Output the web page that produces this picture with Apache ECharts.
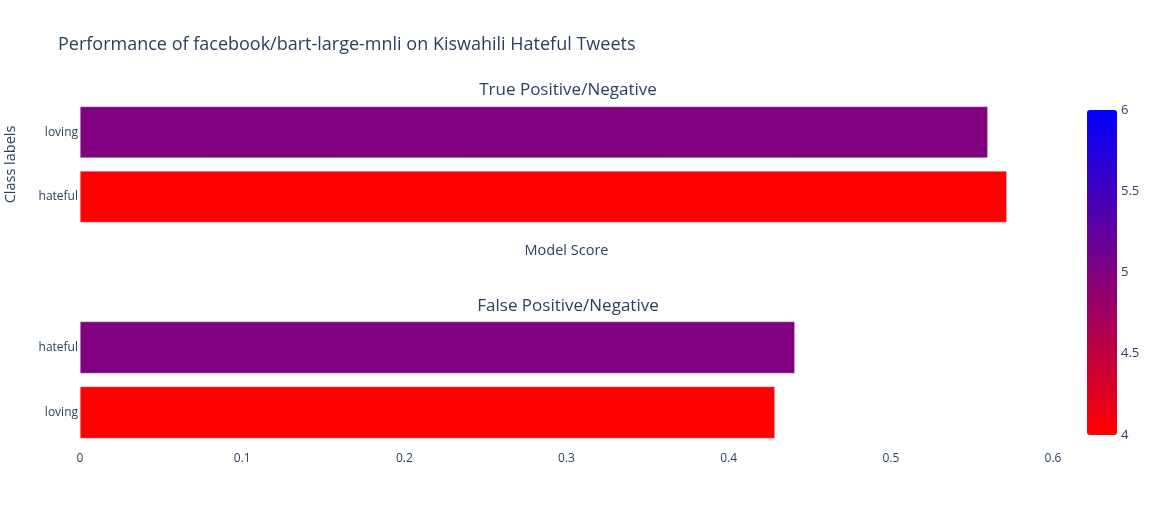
<!DOCTYPE html>
<html>
<head>
<meta charset="utf-8">
<script src="https://cdn.jsdelivr.net/npm/echarts@6/dist/echarts.min.js"></script>
<style>
  html, body { margin: 0; padding: 0; background: #fff; }
  #chart { width: 1158px; height: 525px; }
</style>
</head>
<body>
<div id="chart"></div>
<script>
// Data
const topLabels = ["hateful", "loving"];
const topScores = [0.5715, 0.5598];
const topColorVals = [4, 5];

const bottomLabels = ["loving", "hateful"];
const bottomScores = [0.4285, 0.4408];
const bottomColorVals = [4, 5];

const xTicks = [0, 0.1, 0.2, 0.3, 0.4, 0.5, 0.6];
const colorTicks = [4, 4.5, 5, 5.5, 6];

const fontColor = "#2a3f5f";
const fontFamily = "'Open Sans', Verdana, Arial, sans-serif";

function buildRows(labels, scores, cvals) {
  let rows = [];
  for (let i = 0; i < labels.length; i++) {
    rows.push([scores[i], labels[i], cvals[i]]);
  }
  return rows;
}

let myChart = echarts.init(document.getElementById("chart"));

let xAxisCommon = {
  type: "value",
  min: xTicks[0],
  max: xTicks[xTicks.length - 1],
  interval: 0.1,
  axisLine: { show: false },
  axisTick: { show: false },
  splitLine: { show: false },
};

let option = {
  backgroundColor: "#fff",
  textStyle: { fontFamily: fontFamily, color: fontColor },
  title: [
    {
      text: "Performance of facebook/bart-large-mnli on Kiswahili Hateful Tweets",
      left: 58,
      top: 36,
      padding: 0,
      textStyle: { fontSize: 18, fontWeight: "normal", color: fontColor, fontFamily: fontFamily },
    },
    {
      text: "True Positive/Negative",
      left: 568,
      textAlign: "center",
      top: 82,
      padding: 0,
      textStyle: { fontSize: 17, fontWeight: "normal", color: fontColor, fontFamily: fontFamily },
    },
    {
      text: "False Positive/Negative",
      left: 568,
      textAlign: "center",
      top: 298,
      padding: 0,
      textStyle: { fontSize: 17, fontWeight: "normal", color: fontColor, fontFamily: fontFamily },
    },
  ],
  grid: [
    { left: 80, top: 100, width: 973, height: 129, outerBoundsMode: "none", containLabel: false },
    { left: 80, top: 315, width: 973, height: 130, outerBoundsMode: "none", containLabel: false },
    { left: 1087, top: 110, width: 30, height: 325, outerBoundsMode: "none", containLabel: false },
  ],
  xAxis: [
    Object.assign({}, xAxisCommon, {
      gridIndex: 0,
      axisLabel: { show: false },
      name: "Model Score",
      nameLocation: "middle",
      nameGap: 14,
      nameTextStyle: { fontSize: 14.5, color: fontColor, fontFamily: fontFamily },
    }),
    Object.assign({}, xAxisCommon, {
      gridIndex: 1,
      axisLabel: { show: true, fontSize: 12, color: fontColor, margin: 8 },
    }),
    { type: "value", gridIndex: 2, show: false, min: 0, max: 1 },
  ],
  yAxis: [
    {
      type: "category",
      gridIndex: 0,
      data: topLabels,
      axisLine: { show: false },
      axisTick: { show: false },
      axisLabel: { fontSize: 12, color: fontColor, margin: 2 },
      name: "Class labels",
      nameLocation: "middle",
      nameGap: 62,
      nameRotate: 90,
      nameTextStyle: { fontSize: 14.5, color: fontColor, fontFamily: fontFamily },
    },
    {
      type: "category",
      gridIndex: 1,
      data: bottomLabels,
      axisLine: { show: false },
      axisTick: { show: false },
      axisLabel: { fontSize: 12, color: fontColor, margin: 2 },
    },
    {
      type: "value",
      gridIndex: 2,
      position: "right",
      min: colorTicks[0],
      max: colorTicks[colorTicks.length - 1],
      interval: 0.5,
      axisLine: { show: false },
      axisTick: { show: false },
      splitLine: { show: false },
      axisLabel: { fontSize: 13, color: fontColor, margin: 4 },
    },
  ],
  visualMap: {
    type: "continuous",
    min: colorTicks[0],
    max: colorTicks[colorTicks.length - 1],
    dimension: 2,
    seriesIndex: [0, 1],
    inRange: { color: ["#ff0000", "#800080", "#0000ff"] },
    calculable: false,
    showLabel: false,
    text: null,
    itemWidth: 30,
    itemHeight: 325,
    left: 1087,
    top: 110,
    padding: 0,
    orient: "vertical",
  },
  series: [
    {
      type: "bar",
      xAxisIndex: 0,
      yAxisIndex: 0,
      data: buildRows(topLabels, topScores, topColorVals),
      encode: { x: 0, y: 1 },
      barCategoryGap: "20%",
      itemStyle: { borderColor: "rgba(229,236,246,0.8)", borderWidth: 0.5 },
      silent: true,
    },
    {
      type: "bar",
      xAxisIndex: 1,
      yAxisIndex: 1,
      data: buildRows(bottomLabels, bottomScores, bottomColorVals),
      encode: { x: 0, y: 1 },
      barCategoryGap: "20%",
      itemStyle: { borderColor: "rgba(229,236,246,0.8)", borderWidth: 0.5 },
      silent: true,
    },
  ],
};

myChart.setOption(option);
</script>
</body>
</html>
